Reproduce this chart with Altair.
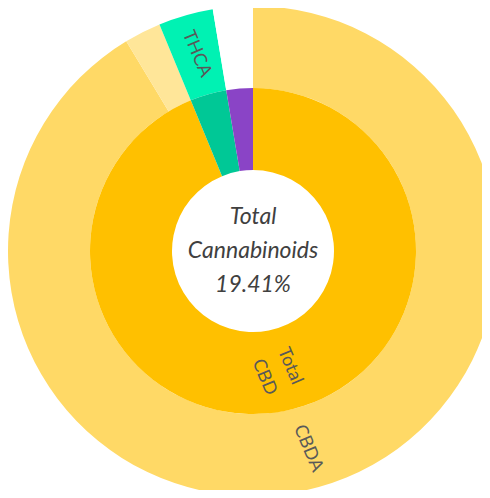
import altair as alt
import pandas as pd

# Inner ring (totals), clockwise from 12 o'clock
inner_names = ["Total CBD", "Total THC", "Other"]
inner_values = [18.20, 0.70, 0.51]
inner_labels = ["Total\nCBD", "", ""]

# Outer ring (components), clockwise from 12 o'clock
outer_names = ["CBDA", "CBD", "THCA", "Blank"]
outer_values = [17.73, 0.47, 0.70, 0.51]
outer_labels = ["CBDA", "", "THCA", ""]

total_pct = 19.41
center_lines = ["Total", "Cannabinoids", f"{total_pct:.2f}%"]

all_names = inner_names + outer_names
all_colors = ["#FFC000", "#00C896", "#8A44C6",
              "#FFD966", "#FFE699", "#00F2B3", "#FFFFFF"]

inner_df = pd.DataFrame({"name": inner_names, "value": inner_values,
                         "label": inner_labels, "ord": list(range(len(inner_names)))})
outer_df = pd.DataFrame({"name": outer_names, "value": outer_values,
                         "label": outer_labels, "ord": list(range(len(outer_names)))})
center_df = pd.DataFrame({"line": ["\n".join(center_lines)]})

CX, CY = 245, 243  # pie centre inside the plot area

color = alt.Color("name:N", scale=alt.Scale(domain=all_names, range=all_colors), legend=None)
theta = alt.Theta("value:Q", stack=True)
order = alt.Order("ord:Q")
cx = alt.value(CX)
cy = alt.value(CY)

inner_arc = alt.Chart(inner_df).mark_arc(radius=163, radius2=81).encode(
    theta=theta, order=order, color=color, x=cx, y=cy)
outer_arc = alt.Chart(outer_df).mark_arc(radius=245, radius2=163).encode(
    theta=theta, order=order, color=color, x=cx, y=cy)

label_style = dict(angle=67, fontSize=18, font="Lato", color="#595959",
                   lineBreak="\n", lineHeight=28)
inner_text = alt.Chart(inner_df).mark_text(radius=123, dy=-14, **label_style).encode(
    theta=theta, order=order, text="label:N", x=cx, y=cy)
outer_text = alt.Chart(outer_df).mark_text(radius=205, **label_style).encode(
    theta=theta, order=order, text="label:N", x=cx, y=cy)

center_text = alt.Chart(center_df).mark_text(
    font="Lato", fontStyle="italic", fontSize=23, color="#404040",
    lineBreak="\n", lineHeight=34, baseline="middle", align="center", dy=-34
).encode(text="line:N", x=cx, y=cy)

chart = alt.layer(outer_arc, inner_arc, outer_text, inner_text, center_text).resolve_scale(
    theta="independent"
).properties(
    width=474, height=482, autosize="none", padding=0
).configure_view(stroke=None)

chart.save("out.html", embed_options={"renderer": "svg", "actions": False})
